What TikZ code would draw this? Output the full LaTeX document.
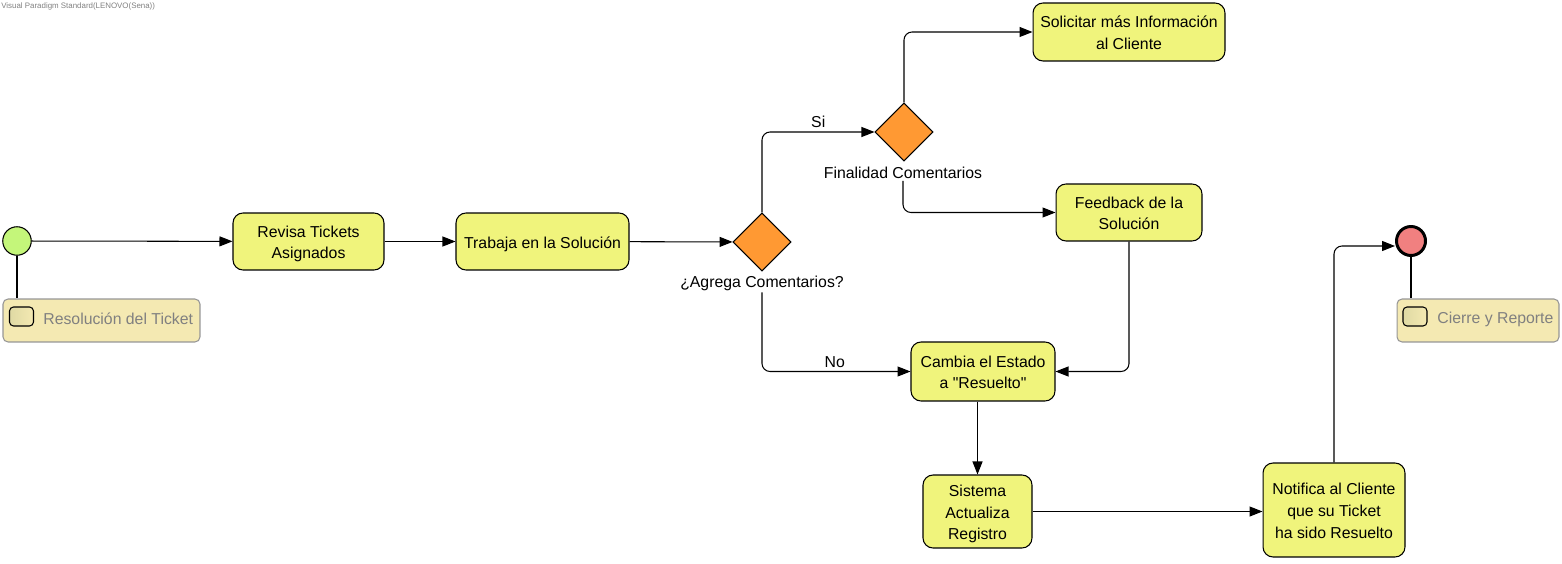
\documentclass[tikz,border=0pt]{standalone}
\usepackage{fontspec}
\setmainfont{Liberation Sans}[Ligatures=TeXOff]
\usepackage{xcolor}
\usetikzlibrary{shapes.geometric,arrows.meta}

\definecolor{actfill}{RGB}{240,244,124}
\definecolor{decfill}{RGB}{255,153,51}
\definecolor{startfill}{RGB}{196,246,122}
\definecolor{endfill}{RGB}{241,128,128}
\definecolor{lanefill}{RGB}{244,233,178}
\definecolor{lanedraw}{RGB}{150,150,150}
\definecolor{lanetext}{RGB}{128,128,128}

\begin{document}
\begin{tikzpicture}[x=0.02cm, y=-0.02cm, font=\fontsize{9}{12.3}\selectfont,
  action/.style={rectangle, rounded corners=0.2cm, draw, line width=0.6pt, fill=actfill, align=center, inner sep=0pt,
    text height=8.2pt, text depth=0.8pt},
  twolines/.style={text height=20.5pt},
  threelines/.style={text height=32.8pt},
  decision/.style={diamond, draw, line width=0.6pt, fill=decfill, minimum size=1.16cm, inner sep=0pt},
  flow/.style={-{Triangle[length=0.26cm,width=0.2cm]}, line width=0.6pt, rounded corners=0.16cm},
  lanebox/.style={rectangle, rounded corners=0.1cm, draw=lanedraw, line width=0.6pt, fill=lanefill, minimum width=#1, minimum height=0.86cm, inner sep=0pt},
  laneicon/.style={rectangle, rounded corners=0.08cm, draw, line width=0.6pt, left color=lanefill!70!olive!70, right color=lanefill, minimum width=0.48cm, minimum height=0.38cm, inner sep=0pt},
  lanelabel/.style={anchor=west, text=lanetext, inner sep=0pt}]
\useasboundingbox (0,0) rectangle (1562,564);

\node (mark) [anchor=north west, inner sep=0pt, text=lanetext, font=\fontsize{4.5}{5}\selectfont] at (1,2) {Visual Paradigm Standard(LENOVO(Sena))};

% start and its partition
\node (start) [circle, draw, line width=0.6pt, fill=startfill, minimum size=0.57cm, inner sep=0pt] at (17,241) {};
\node (lanestart) [lanebox=3.94cm] at (101.5,320.5) {};
\node (iconstart) [laneicon] at (21.5,316.5) {};
\node (txtstart) [lanelabel] at (43,319) {Resolución del Ticket};

% actions
\node (revisa) [action, twolines, minimum width=3.02cm, minimum height=1.14cm] at (308.5,241.5) {Revisa Tickets\\Asignados};
\node (trabaja) [action, minimum width=3.46cm, minimum height=1.14cm] at (542.5,241.5) {Trabaja en la Solución};
\node (solicitar) [action, twolines, minimum width=3.84cm, minimum height=1.16cm] at (1129,32) {Solicitar más Información\\al Cliente};
\node (feedback) [action, twolines, minimum width=2.92cm, minimum height=1.14cm] at (1129,212.5) {Feedback de la\\Solución};
\node (cambia) [action, twolines, minimum width=2.88cm, minimum height=1.18cm] at (983,371.5) {Cambia el Estado\\a "Resuelto"};
\node (sistema) [action, threelines, minimum width=2.18cm, minimum height=1.46cm] at (977.5,511.5) {Sistema\\Actualiza\\Registro};
\node (notifica) [action, threelines, minimum width=2.84cm, minimum height=1.88cm] at (1334,510) {Notifica al Cliente\\que su Ticket\\ha sido Resuelto};

% decisions
\node (agrega) [decision] at (762,242) {};
\node (agregalbl) [inner sep=1pt] at (762,283) {¿Agrega Comentarios?};
\node (finalidad) [decision] at (904,132) {};
\node (finalidadlbl) [inner sep=1pt] at (903,173) {Finalidad Comentarios};

% end and its partition
\node (finish) [circle, draw, line width=1.7pt, fill=endfill, minimum size=0.58cm, inner sep=0pt] at (1411,241) {};
\node (laneend) [lanebox=3.24cm] at (1478,320.5) {};
\node (iconend) [laneicon] at (1415,316.5) {};
\node (txtend) [lanelabel] at (1437,319) {Cierre y Reporte};

% flows
\draw[line width=0.6pt] (start.south) -- (start.south |- lanestart.north);
\draw[line width=0.6pt] (finish.south) -- (finish.south |- laneend.north);
\draw[flow] (start) -- (revisa);
\draw[flow] (revisa) -- (trabaja);
\draw[flow] (trabaja) -- (agrega);
\draw[flow] (agrega.north) |- (finalidad.west) node (si) [pos=0.75, above, inner sep=2pt] {Si};
\draw[flow] (finalidad.north) |- (solicitar.west);
\draw[flow] (finalidadlbl.south) |- (feedback.west);
\draw[flow] (feedback.south) |- (cambia.east);
\draw[flow] (agregalbl.south) |- (cambia.west) node (no) [pos=0.745, above, inner sep=2pt] {No};
\draw[flow] (sistema.north |- cambia.south) -- (sistema.north);
\draw[flow] (sistema.east) -- (sistema.east -| notifica.west);
\draw[flow] (notifica.north) |- ([yshift=-0.1cm]finish.west);
\end{tikzpicture}
\end{document}
